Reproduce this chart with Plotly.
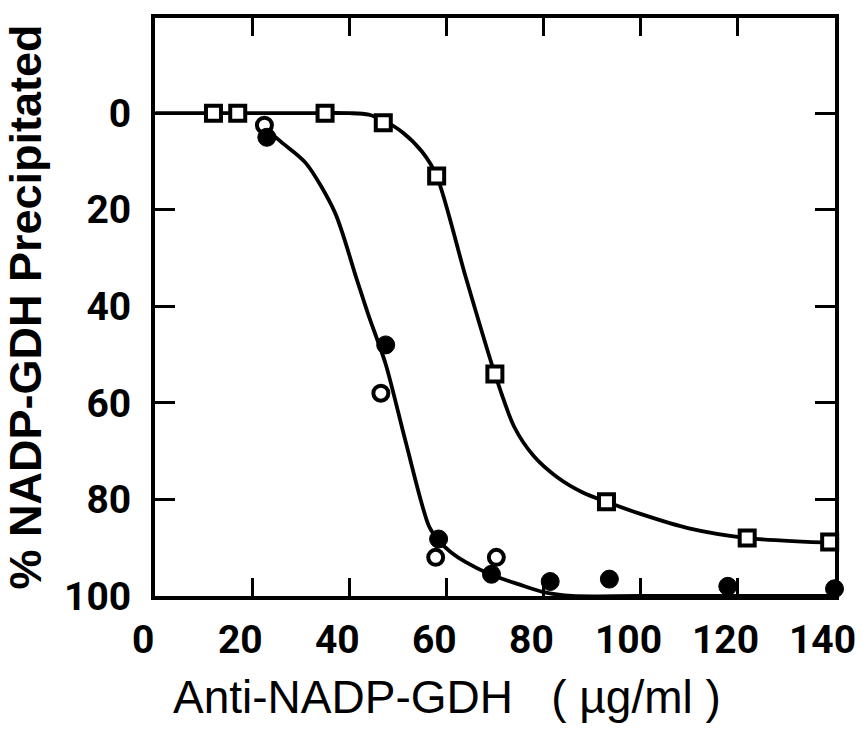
import plotly.graph_objects as go

# --- data ---
sq_x = [12, 17, 35, 47, 58, 70, 93, 122, 139]
sq_y = [0, 0, 0, 2, 13, 54, 80.5, 88, 88.8]

open_x = [22.5, 46.5, 57.8, 70.3]
open_y = [2.5, 58, 92, 92]

fill_x = [23, 47.5, 58.4, 69.3, 81.4, 93.6, 118, 140]
fill_y = [5, 48, 88.2, 95.5, 97, 96.5, 98, 98.5]

sq_curve_x = [0, 12, 30, 40, 44, 47, 51, 55, 58, 64, 70, 74, 78, 83, 88, 93, 100, 110, 122, 140]
sq_curve_y = [0, 0, 0, 0, 0.3, 1.5, 4, 8, 13, 34, 54, 65, 71, 75.5, 78.5, 80.5, 83, 86, 88, 89]

ci_curve_x = [22.5, 26, 31, 37, 41.4, 44, 47.5, 51.6, 56.4, 58.4, 61, 64, 69, 75, 80, 86, 100, 140]
ci_curve_y = [3, 6, 10.3, 20.5, 34, 42, 52, 68, 85.5, 88.5, 91, 93, 95.5, 97.6, 99.2, 100, 100, 100]

x_ticks = [0, 20, 40, 60, 80, 100, 120, 140]
y_ticks = [0, 20, 40, 60, 80, 100]

fig = go.Figure()

line_style = dict(color="black", width=3.8, shape="spline", smoothing=0.8)
fig.add_trace(go.Scatter(x=sq_curve_x, y=sq_curve_y, mode="lines", line=line_style,
                         hoverinfo="skip", showlegend=False, cliponaxis=False))
fig.add_trace(go.Scatter(x=ci_curve_x, y=ci_curve_y, mode="lines", line=line_style,
                         hoverinfo="skip", showlegend=False, cliponaxis=False))

fig.add_trace(go.Scatter(x=sq_x, y=sq_y, mode="markers", showlegend=False, cliponaxis=False,
                         marker=dict(symbol="square", size=15, color="white",
                                     line=dict(color="black", width=4))))
fig.add_trace(go.Scatter(x=open_x, y=open_y, mode="markers", showlegend=False, cliponaxis=False,
                         marker=dict(symbol="circle", size=15, color="white",
                                     line=dict(color="black", width=4))))
fig.add_trace(go.Scatter(x=fill_x, y=fill_y, mode="markers", showlegend=False, cliponaxis=False,
                         marker=dict(symbol="circle", size=18, color="black",
                                     line=dict(color="black", width=1))))

tick_font = dict(family="Roboto", size=39, color="black", weight="bold")

fig.update_xaxes(range=[-0.05, 140.1], tickvals=x_ticks, ticktext=[str(v) for v in x_ticks],
                 ticks="inside", ticklen=18, tickwidth=3, tickcolor="black",
                 showline=True, linewidth=4, linecolor="black", mirror="ticks",
                 showgrid=False, zeroline=False, tickfont=tick_font, ticklabelstandoff=6,
                 ticklabelshift=-12, ticklabeloverflow="allow")
fig.update_yaxes(range=[100, -19.7], tickvals=y_ticks, ticktext=[str(v) for v in y_ticks],
                 ticks="inside", ticklen=20, tickwidth=3, tickcolor="black",
                 showline=True, linewidth=4, linecolor="black", mirror="ticks",
                 showgrid=False, zeroline=False, tickfont=tick_font, ticklabelstandoff=12,
                 title=dict(text="% NADP-GDH Precipitated",
                            font=dict(family="Liberation Sans", size=45, color="black", weight="bold"),
                            standoff=10))

fig.add_annotation(text="Anti-NADP-GDH   ( µg/ml )", xref="paper", yref="paper",
                   x=0.429, y=-0.175, xanchor="center", yanchor="middle", showarrow=False,
                   font=dict(family="Liberation Sans", size=46, color="black"))

fig.update_layout(width=868, height=736, margin=dict(l=155, r=30, t=18, b=140),
                  plot_bgcolor="white", paper_bgcolor="white")

fig.write_html("out.html")
